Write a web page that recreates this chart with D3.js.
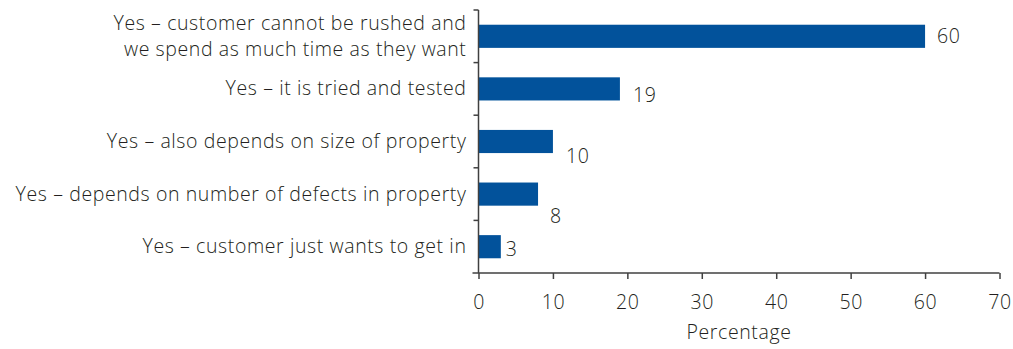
<!DOCTYPE html>
<html>
<head>
<meta charset="utf-8">
<script src="https://cdn.jsdelivr.net/npm/d3@7"></script>
<style>
  html, body { margin: 0; padding: 0; background: #fff; }
  svg { display: block; }
  text { font-family: "Open Sans", Lato, sans-serif; font-weight: 300; fill: #231f20; letter-spacing: 0.6px; }
</style>
</head>
<body>
<svg id="chart" width="1013" height="349"></svg>
<script>
// Survey answers (each entry is a list of label lines)
const categories = [
  ["Yes – customer cannot be rushed and", "we spend as much time as they want"],
  ["Yes – it is tried and tested"],
  ["Yes – also depends on size of property"],
  ["Yes – depends on number of defects in property"],
  ["Yes – customer just wants to get in"]
];
const values = [60, 19, 10, 8, 3];
const xTicks = [0, 10, 20, 30, 40, 50, 60, 70];
const xTitle = "Percentage";

// Hand-placed value label nudges (dx, dy) in pixels
const labelNudge = [[12, 0], [13, 6], [13, 15], [12, 22], [5, 2]];

const svg = d3.select("#chart");
const margin = { left: 478.5, right: 13.5, top: 10, bottom: 76 };
const W = 1013, H = 349;
const fontFamily = "'Open Sans', Lato, sans-serif";
const fs = 19.5;

const x = d3.scaleLinear().domain([0, 70]).range([margin.left, W - margin.right]);
const y = d3.scaleBand()
  .domain(d3.range(categories.length))
  .range([margin.top, H - margin.bottom])
  .paddingInner(0.56).paddingOuter(0.28);

const axisColor = "#404040";
const barColor = "#02529b";

// Bars
svg.append("g").selectAll("rect")
  .data(values)
  .join("rect")
  .attr("x", x(0))
  .attr("y", (d, i) => y(i))
  .attr("width", d => x(d) - x(0))
  .attr("height", y.bandwidth())
  .attr("fill", barColor);

// Value labels
svg.append("g").selectAll("text")
  .data(values)
  .join("text")
  .attr("x", (d, i) => x(d) + labelNudge[i][0])
  .attr("y", (d, i) => y(i) + y.bandwidth() / 2 + labelNudge[i][1])
  .attr("dy", "0.35em")
  .attr("font-size", fs)
  .text(d => d);

// Y axis: line with boundary ticks between categories
const step = y.step();
const yTop = margin.top, yBot = H - margin.bottom;
const gy = svg.append("g");
gy.append("line")
  .attr("x1", x(0)).attr("x2", x(0))
  .attr("y1", yTop).attr("y2", yBot)
  .attr("stroke", axisColor).attr("stroke-width", 1.5);
gy.selectAll("line.tick")
  .data(d3.range(categories.length))
  .join("line")
  .attr("class", "tick")
  .attr("x1", x(0) - 5).attr("x2", x(0))
  .attr("y1", i => yTop + i * step).attr("y2", i => yTop + i * step)
  .attr("stroke", axisColor).attr("stroke-width", 1.5);

// Category labels
const catG = svg.append("g");
categories.forEach((lines, i) => {
  const cy = y(i) + y.bandwidth() / 2;
  const lh = 26;
  const t = catG.append("text")
    .attr("text-anchor", "end")
    .attr("font-size", fs);
  lines.forEach((ln, k) => {
    t.append("tspan")
      .attr("x", x(0) - 12)
      .attr("y", cy + (k - (lines.length - 1) / 2) * lh)
      .attr("dy", "0.33em")
      .text(ln);
  });
});

// X axis
const gx = svg.append("g")
  .attr("transform", `translate(0,${yBot})`)
  .call(d3.axisBottom(x).tickValues(xTicks).tickSize(6).tickPadding(16).tickSizeOuter(0));
gx.select(".domain").attr("stroke", axisColor).attr("stroke-width", 1.5)
  .attr("d", `M${x(0) - 6},0H${x(70)}`);
gx.selectAll(".tick line").attr("stroke", axisColor).attr("stroke-width", 1.5);
gx.selectAll(".tick text").attr("font-size", fs).attr("fill", "#231f20")
  .attr("font-family", fontFamily).attr("font-weight", 300);

svg.append("text")
  .attr("x", (x(0) + x(70)) / 2)
  .attr("y", 339)
  .attr("text-anchor", "middle")
  .attr("font-size", fs)
  .text(xTitle);
</script>
</body>
</html>
